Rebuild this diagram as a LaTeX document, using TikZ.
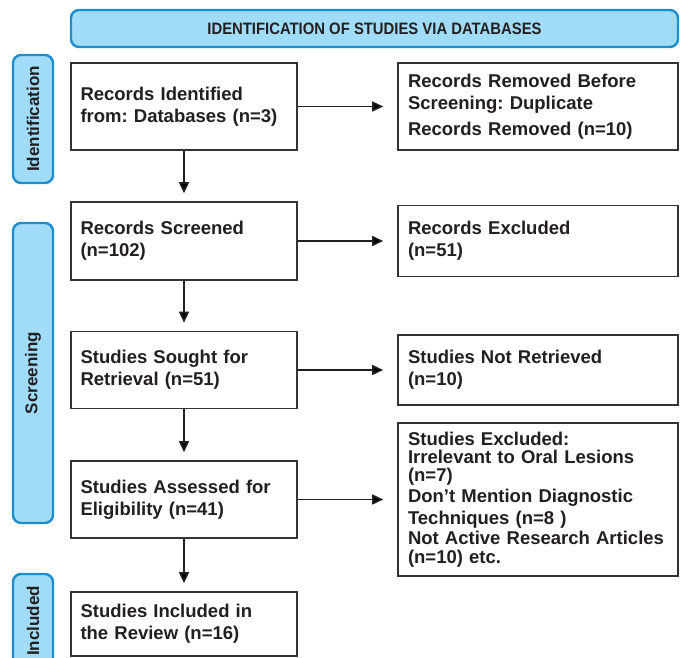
\documentclass[tikz,border=0pt]{standalone}
\usepackage{fontspec}
\setmainfont{Liberation Sans}
\newfontfamily\bannerfont{Liberation Sans}[FakeStretch=0.9]
\usetikzlibrary{arrows.meta,positioning}
\definecolor{phasefill}{RGB}{160,220,248}
\definecolor{phaseline}{RGB}{28,142,208}
\definecolor{boxline}{RGB}{51,51,51}
\definecolor{boxtext}{RGB}{35,31,32}
\frenchspacing
\tikzset{
  flow box/.style={
    draw=boxline,
    line width=1.6pt,
    fill=white,
    text=boxtext,
    align=left,
    inner ysep=4pt,
    font=\bfseries\fontsize{18.5}{22}\selectfont
  },
  main box/.style={
    flow box,
    text width=207pt,
    inner xsep=9.5pt
  },
  note box/.style={
    flow box,
    text width=260pt,
    inner xsep=10pt
  },
  blue tab/.style={
    draw=phaseline,
    fill=phasefill,
    line width=2.4pt,
    rounded corners=8pt,
    text=boxtext,
    inner sep=0pt
  },
  phase/.style={
    blue tab,
    minimum height=40pt,
    rotate=90,
    font=\bfseries\fontsize{17}{20}\selectfont
  },
  banner/.style={
    blue tab,
    minimum width=607pt,
    minimum height=37pt,
    font=\bannerfont\bfseries\fontsize{16.5}{20}\selectfont
  }
}

\begin{document}
\begin{tikzpicture}[%
            x=1pt, y=1pt,
            >={Triangle[length=11pt,width=10pt]},
            line width=1.6pt,
            shorten >=8pt,
            on grid,
            node distance=130pt and 354pt]
    \useasboundingbox (0,0) rectangle (681,-658);
    % header and phase labels
    \node[banner] (head) at (374.5,-28.5) {IDENTIFICATION OF STUDIES VIA DATABASES};
    \node[phase, minimum width=128pt] (p_id) at (33,-119) {Identification};
    \node[phase, minimum width=300pt] (p_screen) at (33,-373) {Screening};
    \node[phase, minimum width=94pt] (p_inc) at (33,-621) {Included};
    % main column
    \node[main box, minimum height=87pt] (b_1) at (184,-106.5) {Records Identified\\from: Databases (n=3)};
    \node[main box, minimum height=78pt] (b_2) [below=134.5pt of b_1] {Records Screened\\(n=102)};
    \node[main box, minimum height=77pt] (b_3) [below=129pt of b_2] {Studies Sought for\\Retrieval (n=51)};
    \node[main box, minimum height=77pt] (b_4) [below=129.5pt of b_3] {Studies Assessed for\\Eligibility (n=41)};
    \node[main box, minimum height=64pt] (b_5) [below=124.5pt of b_4] {Studies Included in\\the Review (n=16)};
    % exclusions
    \node[note box, minimum height=87pt] (r_1) [right=of b_1] {Records Removed Before\\Screening: Duplicate\\[4pt]Records Removed (n=10)};
    \node[note box, minimum height=71pt] (r_2) [right=of b_2] {Records Excluded\\(n=51)};
    \node[note box, minimum height=70pt] (r_3) [right=of b_3] {Studies Not Retrieved\\(n=10)};
    \node[note box, minimum height=153pt, font=\bfseries\fontsize{18.5}{19}\selectfont] (r_4) [right=of b_4]
        {Studies Excluded:\\[-1pt]Irrelevant to Oral Lesions\\[-1pt](n=7)\\[2pt]Don’t Mention Diagnostic\\[3pt]Techniques (n=8 )\\[1pt]Not Active Research Articles\\(n=10) etc.};
    \path[->, draw=boxtext]
    (b_1) edge (b_2)
    (b_2) edge (b_3)
    (b_3) edge (b_4)
    (b_4) edge (b_5)
    (b_1) edge[shorten >=14pt] (r_1)
    (b_2) edge[shorten >=14pt] (r_2)
    (b_3) edge[shorten >=14pt] (r_3)
    (b_4) edge[shorten >=14pt] (r_4);
\end{tikzpicture}
\end{document}
